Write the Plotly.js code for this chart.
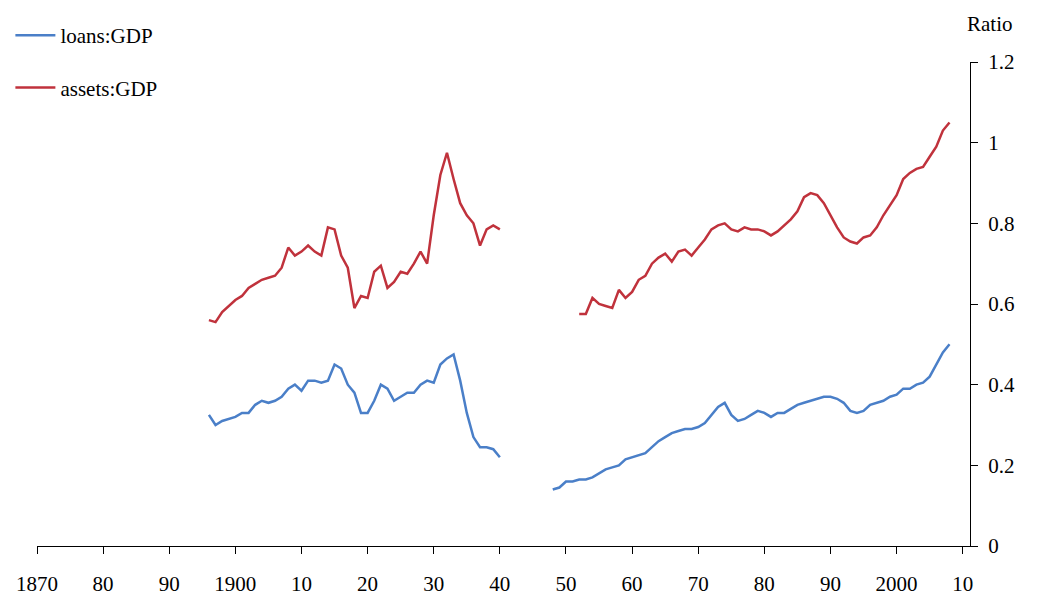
<!DOCTYPE html>
<html><head><script src="https://cdn.plot.ly/plotly-3.0.1.min.js"></script></head>
<body style="margin:0"><div id="c" style="width:1039px;height:602px"></div>
<script>
const loansYears1 = [];for(let y=1896;y<=1940;y++)loansYears1.push(y);
const loans1 = [0.325,0.30,0.31,0.315,0.32,0.33,0.33,0.35,0.36,0.355,0.36,0.37,0.39,0.40,0.385,0.41,0.41,0.405,0.41,0.45,0.44,0.40,0.38,0.33,0.33,0.36,0.40,0.39,0.36,0.37,0.38,0.38,0.40,0.41,0.405,0.45,0.465,0.475,0.41,0.33,0.27,0.245,0.245,0.24,0.22];
const loansYears2 = [];for(let y=1948;y<=2008;y++)loansYears2.push(y);
const loans2 = [0.14,0.145,0.16,0.16,0.165,0.165,0.17,0.18,0.19,0.195,0.20,0.215,0.22,0.225,0.23,0.245,0.26,0.27,0.28,0.285,0.29,0.29,0.295,0.305,0.325,0.345,0.355,0.325,0.31,0.315,0.325,0.335,0.33,0.32,0.33,0.33,0.34,0.35,0.355,0.36,0.365,0.37,0.37,0.365,0.355,0.335,0.33,0.335,0.35,0.355,0.36,0.37,0.375,0.39,0.39,0.40,0.405,0.42,0.45,0.48,0.50];
const assetsYears1 = loansYears1;
const assets1 = [0.56,0.555,0.58,0.595,0.61,0.62,0.64,0.65,0.66,0.665,0.67,0.69,0.74,0.72,0.73,0.745,0.73,0.72,0.79,0.785,0.72,0.69,0.59,0.62,0.615,0.68,0.695,0.64,0.655,0.68,0.675,0.70,0.73,0.70,0.82,0.92,0.975,0.91,0.85,0.82,0.80,0.745,0.785,0.795,0.785];
const assetsYears2 = [];for(let y=1952;y<=2008;y++)assetsYears2.push(y);
const assets2 = [0.575,0.575,0.615,0.60,0.595,0.59,0.635,0.615,0.63,0.66,0.67,0.70,0.715,0.725,0.705,0.73,0.735,0.72,0.74,0.76,0.785,0.795,0.80,0.785,0.78,0.79,0.785,0.785,0.78,0.77,0.78,0.795,0.81,0.83,0.865,0.875,0.87,0.85,0.82,0.79,0.765,0.755,0.75,0.765,0.77,0.79,0.82,0.845,0.87,0.91,0.925,0.935,0.94,0.965,0.99,1.03,1.05];
const tickVals = [1870,1880,1890,1900,1910,1920,1930,1940,1950,1960,1970,1980,1990,2000,2010];
const tickText = ['1870','80','90','1900','10','20','30','40','50','60','70','80','90','2000','10'];
const blue='#4a7fc8', red='#c0323c';
const data=[
 {x:loansYears1.concat([null],loansYears2),y:loans1.concat([null],loans2),name:'loans:GDP',legendgroup:'a',mode:'lines',line:{color:blue,width:2.5}},
 {x:assetsYears1.concat([null],assetsYears2),y:assets1.concat([null],assets2),name:'assets:GDP',legendgroup:'b',mode:'lines',line:{color:red,width:2.5}}
];
const layout={width:1039,height:602,margin:{l:37,r:69,t:62,b:56,autoexpand:false},showlegend:true,
 font:{family:'Liberation Serif',size:21,color:'#000'},
 legend:{xref:'container',yref:'container',x:0.01,y:0.975,xanchor:'left',yanchor:'top',font:{size:21},tracegroupgap:22,bgcolor:'rgba(0,0,0,0)',itemwidth:40},
 xaxis:{range:[1870,2011.1],tickvals:tickVals,ticktext:tickText,showgrid:false,zeroline:false,showline:true,linecolor:'#000',ticks:'outside',ticklen:7,tickcolor:'#000',automargin:false,ticklabelstandoff:12},
 yaxis:{side:'right',range:[0,1.2],dtick:0.2,showgrid:false,zeroline:false,showline:true,linecolor:'#000',ticks:'outside',ticklen:7,tickcolor:'#000',tickformat:'.1~f',automargin:false,ticklabelstandoff:6},
 annotations:[{text:'Ratio',xref:'paper',yref:'paper',x:0.995,y:1.05,xanchor:'left',yanchor:'bottom',showarrow:false,font:{size:21}}]
};
Plotly.newPlot('c',data,layout,{displayModeBar:false});
</script></body></html>
